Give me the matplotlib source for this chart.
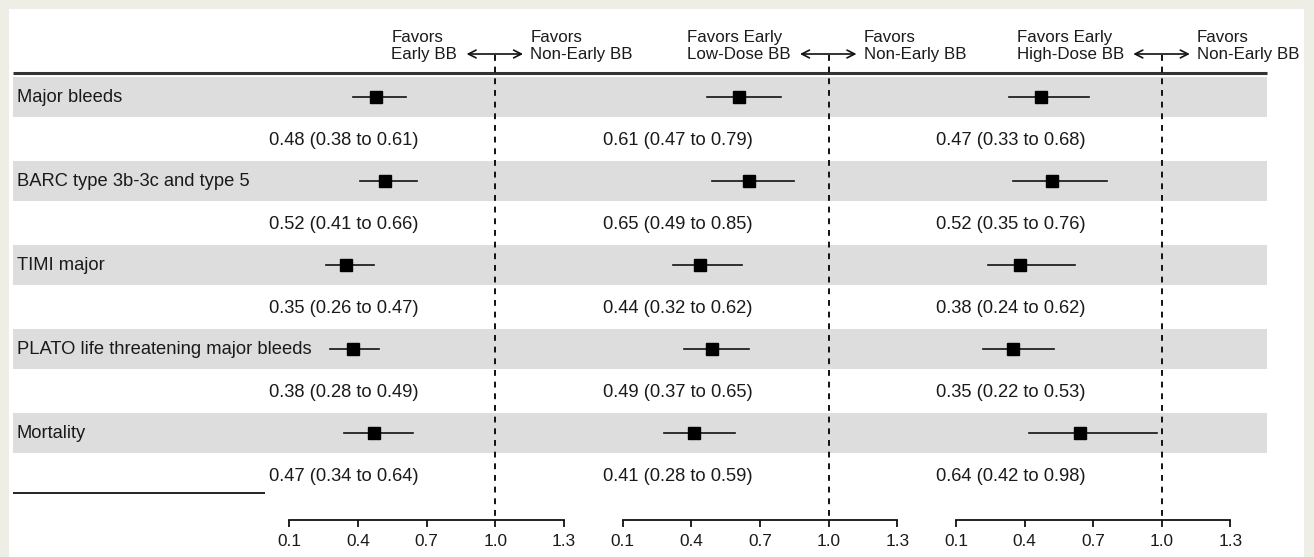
import matplotlib
matplotlib.use("Agg")
import matplotlib.pyplot as plt
from matplotlib.patches import Rectangle

plt.rcParams["font.family"] = ["Liberation Sans", "DejaVu Sans"]

# Outcomes and hazard-ratio estimates (point, lower, upper) per comparison
outcomes = [
    "Major bleeds",
    "BARC type 3b-3c and type 5",
    "TIMI major",
    "PLATO life threatening major bleeds",
    "Mortality",
]
early_est = [0.48, 0.52, 0.35, 0.38, 0.47]
early_lo = [0.38, 0.41, 0.26, 0.28, 0.34]
early_hi = [0.61, 0.66, 0.47, 0.49, 0.64]

low_est = [0.61, 0.65, 0.44, 0.49, 0.41]
low_lo = [0.47, 0.49, 0.32, 0.37, 0.28]
low_hi = [0.79, 0.85, 0.62, 0.65, 0.59]

high_est = [0.47, 0.52, 0.38, 0.35, 0.64]
high_lo = [0.33, 0.35, 0.24, 0.22, 0.42]
high_hi = [0.68, 0.76, 0.62, 0.53, 0.98]

left_headers = ["Favors\nEarly BB", "Favors Early\nLow-Dose BB", "Favors Early\nHigh-Dose BB"]
right_headers = ["Favors\nNon-Early BB", "Favors\nNon-Early BB", "Favors\nNon-Early BB"]
tick_values = [0.1, 0.4, 0.7, 1.0, 1.3]

panels = [
    (early_est, early_lo, early_hi),
    (low_est, low_lo, low_hi),
    (high_est, high_lo, high_hi),
]

W, H = 1314, 557
FS_ROW = 13.2
FS_HEAD = 12.2
FS_TICK = 12.4
TXT = "#1a1a1a"
fig = plt.figure(figsize=(W / 100, H / 100), dpi=100, facecolor="#efeee6")

# Background layer in pixel coordinates
bg = fig.add_axes([0, 0, 1, 1])
bg.set_xlim(0, W)
bg.set_ylim(H, 0)
bg.axis("off")
bg.add_patch(Rectangle((9, 9), 1295, H - 9, facecolor="white", edgecolor="none"))

row_y0, row_step = 96.5, 84.1
row_y = [row_y0 + i * row_step for i in range(len(outcomes))]
band_h = 40

for y, name in zip(row_y, outcomes):
    bg.add_patch(Rectangle((13, y - band_h / 2), 1254, band_h,
                           facecolor="#dddddd", edgecolor="none"))
    bg.text(17, y + 1, name, fontsize=FS_ROW, color=TXT, va="center", ha="left")

bg.plot([13, 1267], [73, 73], color="#333333", lw=2.2, solid_capstyle="butt")
bg.plot([13, 265], [493, 493], color="#111111", lw=1.3, solid_capstyle="butt")

# One forest panel per comparison
panel_left = [289.3, 622.7, 956.0]
panel_w = 274.5
axis_y, top_y = 520, 55

for k, (est, lo, hi) in enumerate(panels):
    x0 = panel_left[k]
    ax = fig.add_axes([x0 / W, (H - axis_y) / H, panel_w / W, (axis_y - top_y) / H])
    ax.patch.set_visible(False)
    ax.set_xlim(0.1, 1.3)
    ax.set_ylim(axis_y, top_y)
    for s in ("left", "right", "top"):
        ax.spines[s].set_visible(False)
    ax.spines["bottom"].set_linewidth(1.3)
    ax.spines["bottom"].set_color("#111111")
    ax.set_yticks([])
    ax.set_xticks(tick_values)
    ax.set_xticklabels([f"{v:.1f}" for v in tick_values], fontsize=FS_TICK, color=TXT)
    ax.tick_params(axis="x", direction="out", length=5, width=1.3, pad=5, colors="#111111")
    for lab in ax.get_xticklabels():
        lab.set_color(TXT)

    ax.plot([1.0, 1.0], [top_y, axis_y], color="#111111", lw=1.4,
            ls=(0, (3, 3)), clip_on=False)

    for y, e, l, h in zip(row_y, est, lo, hi):
        ax.plot([l, h], [y, y], color="#111111", lw=1.2, clip_on=False)
        ax.plot([e], [y], marker="s", ms=8.5, color="black", clip_on=False)
        ax.text(0.013, y + 44, f"{e:.2f} ({l:.2f} to {h:.2f})", fontsize=FS_ROW,
                color=TXT, va="center", ha="left", clip_on=False)

    ax.annotate("", xy=(0.875, 54), xytext=(1.122, 54),
                arrowprops=dict(arrowstyle="<->,head_length=0.55,head_width=0.28",
                                color="#111111", lw=1.2, shrinkA=0, shrinkB=0,
                                mutation_scale=10),
                annotation_clip=False)
    ax.text(0.834, 46, left_headers[k], fontsize=FS_HEAD, color=TXT, ha="right",
            va="center", multialignment="left", linespacing=1.22, clip_on=False)
    ax.text(1.153, 46, right_headers[k], fontsize=FS_HEAD, color=TXT, ha="left",
            va="center", multialignment="left", linespacing=1.22, clip_on=False)

fig.savefig("out.png", dpi=100, facecolor=fig.get_facecolor())
